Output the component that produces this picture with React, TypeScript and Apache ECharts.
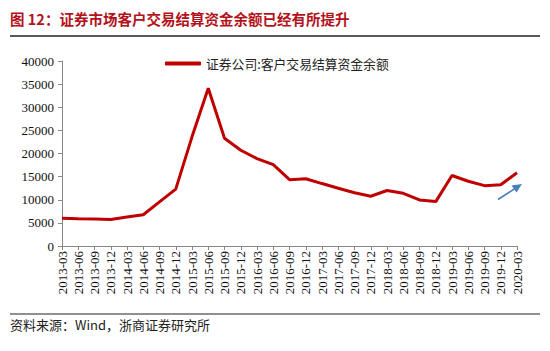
import React, { useEffect, useRef } from "react";
import * as echarts from "echarts";

const categories = [
  "2013-03", "2013-06", "2013-09", "2013-12",
  "2014-03", "2014-06", "2014-09", "2014-12",
  "2015-03", "2015-06", "2015-09", "2015-12",
  "2016-03", "2016-06", "2016-09", "2016-12",
  "2017-03", "2017-06", "2017-09", "2017-12",
  "2018-03", "2018-06", "2018-09", "2018-12",
  "2019-03", "2019-06", "2019-09", "2019-12",
  "2020-03",
];
const seriesName = "证券公司:客户交易结算资金余额";
const balances = [
  6000, 5900, 5850, 5750,
  6250, 6750, 9550, 12300,
  23600, 34100, 23300, 20700,
  18900, 17600, 14350, 14550,
  13500, 12500, 11500, 10750,
  12000, 11400, 9950, 9600,
  15250, 14000, 13050, 13250,
  15850,
];
const titleText = "图 12：证券市场客户交易结算资金余额已经有所提升";
const sourceText = "资料来源：Wind，浙商证券研究所";

export default function App() {
  const ref = useRef<HTMLDivElement>(null);
  useEffect(() => {
    if (!ref.current) return;
    const chart = echarts.init(ref.current, undefined, { renderer: "svg" });
    chart.setOption({
      animation: false,
      backgroundColor: "#ffffff",
      grid: { left: 62, right: 33, top: 61, bottom: 105 },
      legend: {
        top: 52,
        left: 160,
        itemWidth: 36,
        itemHeight: 4,
        icon: "roundRect",
        itemGap: 4,
        textStyle: { fontFamily: "Noto Sans CJK SC", fontSize: 12.8, color: "#222" },
        data: [{ name: seriesName, itemStyle: { color: "#c00000" } }],
      },
      xAxis: {
        type: "category",
        data: categories,
        boundaryGap: false,
        axisLine: { lineStyle: { color: "#888", width: 1 } },
        axisTick: { alignWithLabel: true, length: 4, lineStyle: { color: "#888" } },
        axisLabel: {
          rotate: 90,
          interval: 0,
          margin: 5,
          fontFamily: "Liberation Serif",
          fontSize: 13,
          color: "#111",
        },
      },
      yAxis: {
        type: "value",
        min: 0,
        max: 40000,
        interval: 5000,
        splitLine: { show: false },
        axisLine: { show: true, lineStyle: { color: "#888", width: 1 } },
        axisTick: { show: true, length: 4, lineStyle: { color: "#888" } },
        axisLabel: {
          margin: 8,
          fontFamily: "Liberation Serif",
          fontSize: 13,
          color: "#111",
          formatter: (v: number) => String(v),
        },
      },
      series: [
        {
          name: seriesName,
          type: "line",
          data: balances,
          symbol: "none",
          lineStyle: { color: "#c00000", width: 3 },
          itemStyle: { color: "#c00000" },
        },
      ],
      graphic: [
        {
          type: "text",
          left: 10,
          top: 11,
          style: {
            text: titleText,
            fontFamily: "Noto Sans CJK SC",
            fontSize: 14.5,
            fontWeight: "bold",
            fill: "#b3121b",
          },
        },
        {
          type: "line",
          shape: { x1: 10, y1: 36, x2: 540, y2: 36 },
          style: { stroke: "#222", lineWidth: 1.5 },
        },
        {
          type: "line",
          shape: { x1: 10, y1: 314, x2: 540, y2: 314 },
          style: { stroke: "#222", lineWidth: 1.2 },
        },
        {
          type: "text",
          left: 10,
          top: 318,
          style: {
            text: sourceText,
            fontFamily: "Noto Sans CJK SC",
            fontSize: 13,
            fill: "#222",
          },
        },
        {
          type: "line",
          shape: { x1: 498, y1: 199.5, x2: 515, y2: 188.5 },
          style: { stroke: "#4a7ebb", lineWidth: 1.5 },
        },
        {
          type: "polygon",
          shape: { points: [[522, 184], [511.5, 185.5], [516.5, 192.5]] },
          style: { fill: "#4a7ebb" },
        },
      ],
    });
    return () => chart.dispose();
  }, []);
  return (
    <div
      ref={ref}
      style={{ position: "absolute", left: 0, top: 0, width: 550, height: 351 }}
    />
  );
}
